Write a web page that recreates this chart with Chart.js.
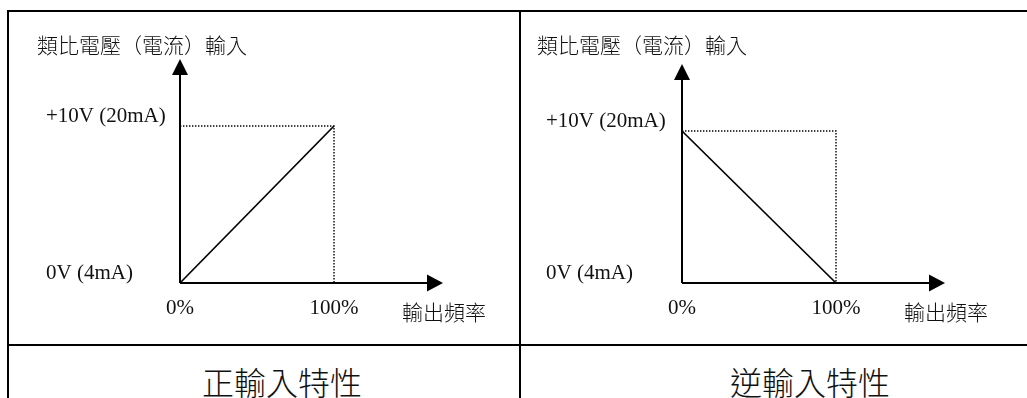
<!DOCTYPE html>
<html>
<head>
<meta charset="utf-8">
<script src="https://cdn.jsdelivr.net/npm/chart.js@4/dist/chart.umd.min.js"></script>
<style>
  html, body { margin: 0; padding: 0; background: #fff; }
  body { width: 1027px; height: 398px; position: relative; overflow: hidden; }
  .ln { position: absolute; background: #000; }
  .cv { position: absolute; }
  .cap { position: absolute; font-family: "Noto Sans CJK TC", "Noto Sans CJK SC", sans-serif; font-weight: 300; font-size: 32px; color: #111; white-space: nowrap; transform: translate(-50%, -50%); }
</style>
</head>
<body>
<div class="ln" style="left:7px; top:10px; width:1020px; height:2px;"></div>
<div class="ln" style="left:7px; top:10px; width:2px; height:388px;"></div>
<div class="ln" style="left:519px; top:10px; width:2px; height:388px;"></div>
<div class="ln" style="left:7px; top:344px; width:1020px; height:2px;"></div>
<canvas id="c1" class="cv" style="left:10px; top:12px;" width="508" height="332"></canvas>
<canvas id="c2" class="cv" style="left:521px; top:12px;" width="498" height="332"></canvas>
<div id="cap1" class="cap" style="left:282px; top:381px;"></div>
<div id="cap2" class="cap" style="left:810px; top:381px;"></div>
<script>
// ---- data ----
const xTickValues = [0, 100];
const xTickLabels = ['0%', '100%'];
const yTickValues = [0, 10];
const yTickLabels = ['0V (4mA)', '+10V (20mA)'];
const positiveX = [0, 100];
const positiveY = [0, 10];
const reverseX = [0, 100];
const reverseY = [10, 0];
const guideX = [0, 100, 100];
const guideY = [10, 10, 0];
const yAxisTitle = '類比電壓（電流）輸入';
const xAxisTitle = '輸出頻率';
const captions = ['正輸入特性', '逆輸入特性'];

document.getElementById('cap1').textContent = captions[0];
document.getElementById('cap2').textContent = captions[1];

const toPoints = (xs, ys) => xs.map((x, i) => ({x: x, y: ys[i]}));
const CJK = '"Noto Sans CJK TC", "Noto Sans CJK SC", sans-serif';
const SERIF = '"Liberation Serif", "DejaVu Serif", serif';

const axesPlugin = {
  id: 'arrowAxes',
  beforeDatasetsDraw(chart) {
    const {ctx, chartArea: a} = chart;
    ctx.save();
    ctx.strokeStyle = '#000';
    ctx.fillStyle = '#000';
    ctx.lineWidth = 2;
    ctx.beginPath();
    ctx.moveTo(a.left, a.bottom);
    ctx.lineTo(a.left, a.top - 52);
    ctx.moveTo(a.left, a.bottom);
    ctx.lineTo(a.right + 94, a.bottom);
    ctx.stroke();
    // y arrow
    ctx.beginPath();
    ctx.moveTo(a.left, a.top - 67);
    ctx.lineTo(a.left - 8, a.top - 51);
    ctx.lineTo(a.left + 8, a.top - 51);
    ctx.closePath();
    ctx.fill();
    // x arrow
    ctx.beginPath();
    ctx.moveTo(a.right + 109, a.bottom);
    ctx.lineTo(a.right + 93, a.bottom - 8.5);
    ctx.lineTo(a.right + 93, a.bottom + 8.5);
    ctx.closePath();
    ctx.fill();
    ctx.restore();
  },
  afterDraw(chart) {
    const {ctx, chartArea: a} = chart;
    const ys = chart.scales.y;
    ctx.save();
    ctx.fillStyle = '#111';
    ctx.font = '300 21px ' + CJK;
    ctx.textBaseline = 'middle';
    ctx.textAlign = 'left';
    ctx.fillText(yAxisTitle, ys.left - 9, 33);
    ctx.fillText(xAxisTitle, a.right + 68, a.bottom + 29);
    ctx.restore();
  }
};

function makeChart(id, xs, ys, padLeft, yWidth, padTop, padRight) {
  return new Chart(document.getElementById(id), {
    type: 'line',
    data: {
      datasets: [
        { data: toPoints(xs, ys), borderColor: '#000', borderWidth: 1.7, pointRadius: 0, clip: false, tension: 0 },
        { data: toPoints(guideX, guideY), borderColor: '#000', borderWidth: 1.4, borderDash: [1.4, 1.6], pointRadius: 0, clip: false, tension: 0 }
      ]
    },
    options: {
      responsive: false,
      animation: false,
      events: [],
      layout: { padding: { left: padLeft, top: padTop, right: padRight, bottom: 0 } },
      plugins: { legend: { display: false }, tooltip: { enabled: false }, title: { display: false } },
      scales: {
        x: {
          type: 'linear', min: 0, max: 100,
          grid: { display: false, drawTicks: false },
          border: { display: false },
          afterBuildTicks: (s) => { s.ticks = xTickValues.map(v => ({value: v})); },
          afterFit: (s) => { s.height = 61; },
          ticks: {
            color: '#111',
            font: { family: SERIF, size: 21 },
            padding: 13,
            maxRotation: 0,
            autoSkip: false,
            callback: (v) => xTickLabels[xTickValues.indexOf(v)]
          }
        },
        y: {
          type: 'linear', min: 0, max: 10,
          grid: { display: false, drawTicks: false },
          border: { display: false },
          afterBuildTicks: (s) => { s.ticks = yTickValues.map(v => ({value: v})); },
          afterFit: (s) => { s.width = yWidth; },
          ticks: {
            color: '#111',
            font: { family: SERIF, size: 21 },
            crossAlign: 'far',
            labelOffset: -10,
            autoSkip: false,
            callback: (v) => yTickLabels[yTickValues.indexOf(v)]
          }
        }
      }
    },
    plugins: [axesPlugin]
  });
}

makeChart('c1', positiveX, positiveY, 36, 134, 114, 184);
makeChart('c2', reverseX, reverseY, 25, 136, 119, 183);
</script>
</body>
</html>
